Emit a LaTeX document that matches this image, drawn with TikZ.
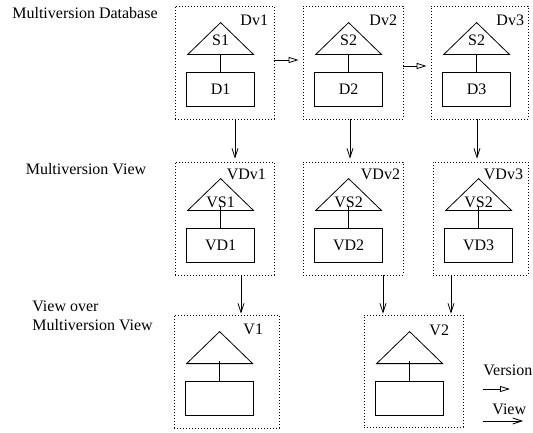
\documentclass[tikz,border=0pt]{standalone}
\usepackage{fontspec}
\setmainfont{Liberation Serif}
\usetikzlibrary{arrows.meta,calc}
\newcommand\lbfont{\fontsize{16bp}{19bp}\selectfont}
% #1 frame node, #2 name prefix, #3 schema label, #4 data label,
% #5 schema label baseline offset, #6 how far the stem rises above the base
\newcommand\schema[6]{%
  \coordinate (#2apex) at ($(#1.north west)+(46,17)$);
  \coordinate (#2bl) at ($(#1.north west)+(13,49)$);
  \coordinate (#2br) at ($(#1.north west)+(79,49)$);
  \draw (#2bl) -- (#2apex) -- (#2br) -- cycle;
  \node[lbl, anchor=base] (#2s) at ($(#1.north west)+(46,#5)$) {#3};
  \node[datbox] (#2d) at ($(#1.north west)+(46,84)$) {#4};
  \draw (#2d.north) -- ([yshift=#6bp]#2d.north |- #2bl);
}
\begin{document}
\begin{tikzpicture}[x=1bp, y=-1bp, line width=0.8bp,
  frame/.style={draw, dash pattern=on 0.9bp off 2.1bp, inner sep=0, minimum height=113bp},
  datbox/.style={draw, minimum width=68bp, minimum height=34bp, inner sep=0, font=\lbfont},
  lbl/.style={font=\lbfont, inner sep=0},
  verarr/.style={-{Triangle[open,length=10bp,width=6bp]}},
  viewarr/.style={-{Straight Barb[length=9bp,width=6bp]}}]
\useasboundingbox (0,0) rectangle (533,433);

% row labels
\node[lbl, anchor=base] (l1) at (85,19) {Multiversion Database};
\node[lbl, anchor=base] (l2) at (86,175) {Multiversion View};
\node[lbl, anchor=base west, align=left] (l3) at (32,330) {View over\\Multiversion View};

% database versions
\node[frame, minimum width=99bp] (dv1) at (224.5,62.5) {};
\node[frame, minimum width=100bp] (dv2) at (353,62.5) {};
\node[frame, minimum width=97bp] (dv3) at (479.5,62.5) {};
\schema{dv1}{a}{S1}{D1}{40}{0}
\schema{dv2}{b}{S2}{D2}{40}{0}
\schema{dv3}{c}{S2}{D3}{40}{0}
\node[lbl, anchor=base east] (dv1n) at ($(dv1.north east)+(-6,20)$) {Dv1};
\node[lbl, anchor=base east] (dv2n) at ($(dv2.north east)+(-6,20)$) {Dv2};
\node[lbl, anchor=base east] (dv3n) at ($(dv3.north east)+(-4,20)$) {Dv3};

% view versions
\node[frame, minimum width=99bp] (vdv1) at (224.5,218.5) {};
\node[frame, minimum width=100bp] (vdv2) at (353,218.5) {};
\node[frame, minimum width=95bp] (vdv3) at (480.5,218.5) {};
\schema{vdv1}{d}{VS1}{VD1}{46}{5}
\schema{vdv2}{e}{VS2}{VD2}{46}{5}
\schema{vdv3}{f}{VS2}{VD3}{46}{5}
\node[lbl, anchor=base east] (vdv1n) at ($(vdv1.north east)+(-8,18)$) {VDv1};
\node[lbl, anchor=base east] (vdv2n) at ($(vdv2.north east)+(-3,18)$) {VDv2};
\node[lbl, anchor=base east] (vdv3n) at ($(vdv3.north east)+(-5,18)$) {VDv3};

% views over views
\node[frame, minimum width=105bp] (v1) at (226.5,371.5) {};
\node[frame, minimum width=99bp, minimum height=112bp] (v2) at (413.5,371) {};
\schema{v1}{g}{}{}{46}{3}
\schema{v2}{h}{}{}{46}{3}
\node[lbl, anchor=base east] (v1n) at ($(v1.north east)+(-16,20)$) {V1};
\node[lbl, anchor=base east] (v2n) at ($(v2.north east)+(-14,21)$) {V2};

% version arrows
\draw[verarr, shorten >=4bp] ([yshift=2.5bp]dv1.east) -- ([yshift=2.5bp]dv1.east -| dv2.west);
\draw[verarr, shorten >=4bp] ([yshift=-3.5bp]dv2.east) -- ([yshift=-3.5bp]dv2.east -| dv3.west);

% view arrows
\draw[viewarr, shorten >=3bp] ([xshift=10.5bp]dv1.south) -- ([xshift=10.5bp]dv1.south |- vdv1.north);
\draw[viewarr, shorten >=3bp] ([xshift=-3bp]dv2.south) -- ([xshift=-3bp]dv2.south |- vdv2.north);
\draw[viewarr, shorten >=3bp] ([xshift=-2.5bp]dv3.south) -- ([xshift=-2.5bp]dv3.south |- vdv3.north);
\draw[viewarr, shorten >=1bp] ([xshift=16.5bp]vdv1.south) -- ([xshift=16.5bp]vdv1.south |- v1.north);
\draw[viewarr, shorten >=1bp] ([xshift=30bp]vdv2.south) -- ([xshift=30bp]vdv2.south |- v2.north);
\draw[viewarr, shorten >=1bp] ([xshift=-29.5bp]vdv3.south) -- ([xshift=-29.5bp]vdv3.south |- v2.north);

% legend
\node[lbl, anchor=base west] (kver) at (483,375) {Version};
\coordinate (kv1) at (483,389);
\coordinate (kv2) at (510,389);
\draw[verarr] (kv1) -- (kv2);
\node[lbl, anchor=base west] (kview) at (492,414) {View};
\coordinate (kw1) at (483,421);
\coordinate (kw2) at (523,421);
\draw[viewarr] (kw1) -- (kw2);
\end{tikzpicture}
\end{document}
